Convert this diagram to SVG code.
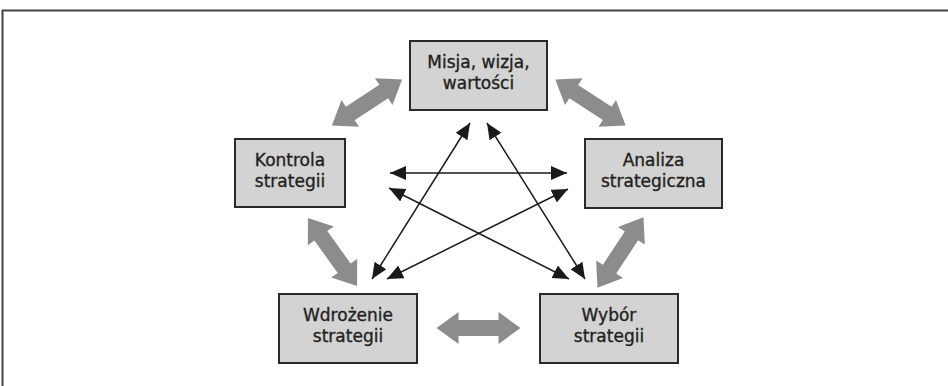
<svg xmlns="http://www.w3.org/2000/svg" width="948" height="386" viewBox="0 0 948 386">
<style>
.box{fill:#d3d3d3;stroke:#2a2a2a;stroke-width:2}
.lbl{font-family:"DejaVu Sans",sans-serif;font-size:17px;fill:#231f20;stroke:#231f20;stroke-width:0.35;text-anchor:middle}
.big{fill:#8c8c8c}
.thin{stroke:#1a1a1a;stroke-width:1.5;fill:none;marker-start:url(#ah);marker-end:url(#ah)}
</style>
<defs>
<marker id="ah" markerUnits="userSpaceOnUse" markerWidth="18" markerHeight="16" refX="16" refY="7" orient="auto-start-reverse">
<path d="M0,0 L16,7 L0,14 z" fill="#1a1a1a"/>
</marker>
<path id="dbl" d="M-42,0 L-20,-16 L-20,-8 L20,-8 L20,-16 L42,0 L20,16 L20,8 L-20,8 L-20,16 Z"/>
</defs>
<rect width="948" height="386" fill="#fff"/>
<path d="M2.5,386 L2.5,10.5 L948,10.5" fill="none" stroke="#444" stroke-width="2"/>
<g id="connectors">
<use href="#dbl" class="big" transform="translate(367,102.5) rotate(-33.3)"/>
<use href="#dbl" class="big" transform="translate(590.5,102.5) rotate(33.1)"/>
<use href="#dbl" class="big" transform="translate(332.5,252) rotate(54.2)"/>
<use href="#dbl" class="big" transform="translate(620.5,252.5) rotate(-56.8)"/>
<use href="#dbl" class="big" transform="translate(478.5,328)"/>
<line class="thin" x1="390" y1="173" x2="567" y2="173"/>
<line class="thin" x1="470" y1="123" x2="372" y2="279"/>
<line class="thin" x1="487" y1="123" x2="585" y2="279"/>
<line class="thin" x1="389" y1="188" x2="569" y2="279"/>
<line class="thin" x1="387" y1="279" x2="568" y2="189"/>
</g>
<g id="misja">
<rect class="box" x="410" y="41" width="137" height="69"/>
<text class="lbl" x="478.5" y="68">Misja, wizja,</text>
<text class="lbl" x="478.5" y="89">wartości</text>
</g>
<g id="kontrola">
<rect class="box" x="235" y="139" width="110" height="68"/>
<text class="lbl" x="290" y="166">Kontrola</text>
<text class="lbl" x="290" y="187">strategii</text>
</g>
<g id="analiza">
<rect class="box" x="585" y="139" width="137" height="69"/>
<text class="lbl" x="653.5" y="166">Analiza</text>
<text class="lbl" x="653.5" y="187">strategiczna</text>
</g>
<g id="wdrozenie">
<rect class="box" x="279" y="294" width="138" height="69"/>
<text class="lbl" x="348" y="321">Wdrożenie</text>
<text class="lbl" x="348" y="342">strategii</text>
</g>
<g id="wybor">
<rect class="box" x="540" y="294" width="138" height="69"/>
<text class="lbl" x="609" y="321">Wybór</text>
<text class="lbl" x="609" y="342">strategii</text>
</g>
</svg>
